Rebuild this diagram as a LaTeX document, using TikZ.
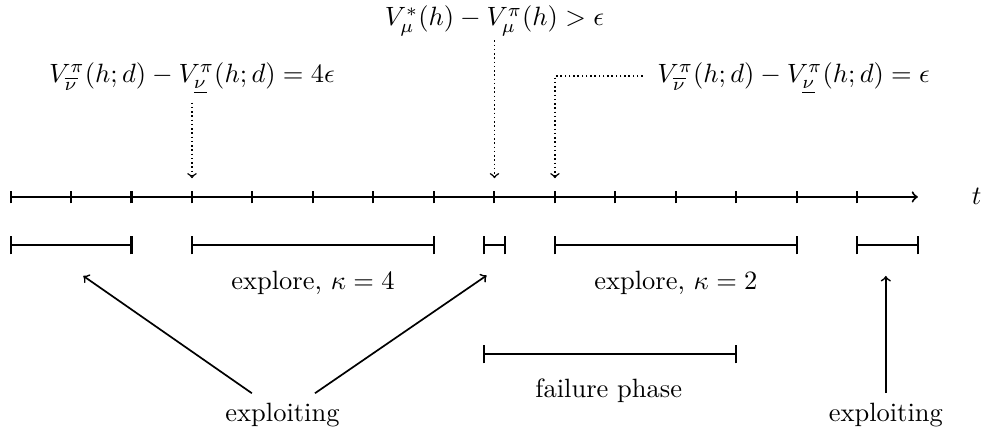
\documentclass[tikz,border=0pt]{standalone}
\begin{document}
\begin{tikzpicture}[
  every node/.style={scale=1.245},
  axisline/.style={line width=0.95pt},
  barline/.style={line width=0.95pt},
  dotarrow/.style={line width=0.7pt,dash pattern=on 0.7pt off 1.3pt,->},
  exparrow/.style={->,line width=0.8pt}
]
\useasboundingbox (-0.174,-3.868) rectangle (16.06,3.256);
% time axis
\coordinate (t0) at (0,0);
\coordinate (t15) at (15,0);
\draw[axisline,->] (t0) -- (t15);
\foreach \i in {0,...,14} \draw[axisline] (\i,-0.105) -- (\i,0.105);
\node[anchor=base] (tlab) at (15.97,-0.13) {$t$};
% phase bars
\foreach \a/\b in {0/2,3/7,7.82/8.18,9/13,14/15}{
  \draw[barline] (\a,-0.8) -- (\b,-0.8);
  \draw[barline] (\a,-0.95) -- (\a,-0.65);
  \draw[barline] (\b,-0.95) -- (\b,-0.65);
}
\draw[barline] (7.82,-2.6) -- (12,-2.6);
\draw[barline] (7.82,-2.75) -- (7.82,-2.45);
\draw[barline] (12,-2.75) -- (12,-2.45);
% labels
\node[anchor=base] (ek4) at (5,-1.537) {explore, $\kappa=4$};
\node[anchor=base] (ek2) at (11,-1.537) {explore, $\kappa=2$};
\node[anchor=base] (fp) at (9.89,-3.32) {failure phase};
\node[anchor=base] (ex1) at (4.496,-3.72) {exploiting};
\node[anchor=base] (ex2) at (14.47,-3.72) {exploiting};
% top labels
\node[anchor=base] (top) at (8,2.83) {$V^*_\mu(h) - V^\pi_\mu(h) > \epsilon$};
\node[anchor=base] (lft) at (3,1.893) {$V^\pi_{\overline{\nu}}(h;d) - V^\pi_{\underline{\nu}}(h;d) = 4\epsilon$};
\node[anchor=base west,inner sep=0pt] (rgt) at (10.686,1.893) {$V^\pi_{\overline{\nu}}(h;d) - V^\pi_{\underline{\nu}}(h;d) = \epsilon$};
% dotted markers
\coordinate (d1) at (3,0.31);
\coordinate (d2) at (8,0.31);
\coordinate (d3) at (9,0.31);
\coordinate (s1) at (3,1.56);
\coordinate (s2) at (8,2.59);
\coordinate (s3) at (10.45,2.0);
\draw[dotarrow] (s1) -- (d1);
\draw[dotarrow] (s2) -- (d2);
\draw[dotarrow] (s3) -| (d3);
% exploiting arrows
\coordinate (b1) at (3.99,-3.245);
\coordinate (b2) at (5.033,-3.245);
\coordinate (b3) at (14.47,-3.245);
\coordinate (a1) at (1.203,-1.306);
\coordinate (a2) at (7.871,-1.298);
\coordinate (a3) at (14.47,-1.306);
\draw[exparrow] (b1) -- (a1);
\draw[exparrow] (b2) -- (a2);
\draw[exparrow] (b3) -- (a3);
\end{tikzpicture}
\end{document}
